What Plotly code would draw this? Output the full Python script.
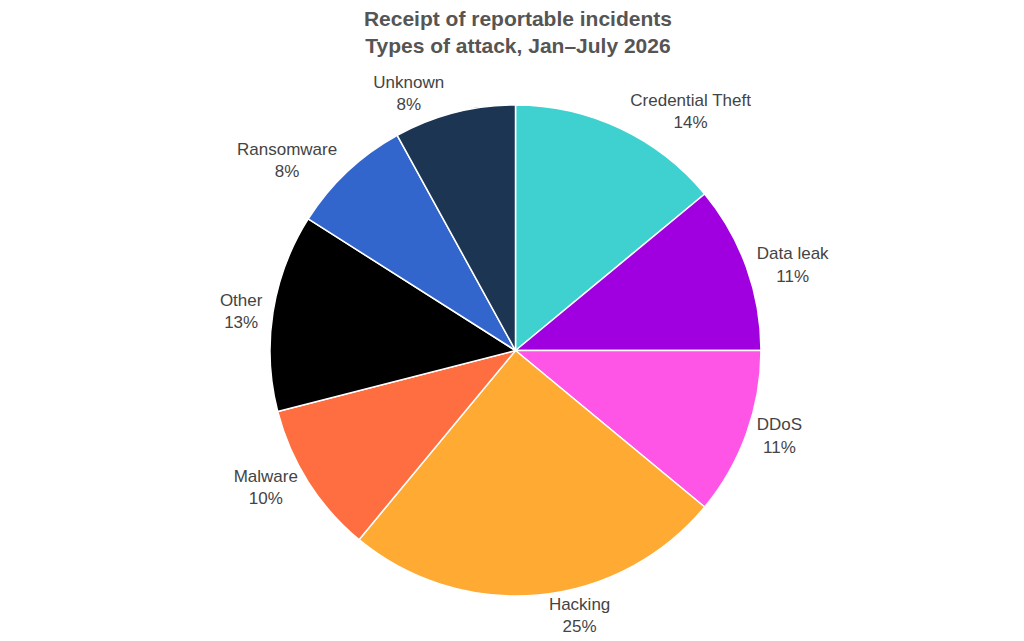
import plotly.graph_objects as go

labels = ["Credential Theft", "Data leak", "DDoS", "Hacking", "Malware", "Other", "Ransomware", "Unknown"]
values = [14, 11, 11, 25, 10, 13, 8, 8]
colors = ["#3ED1D0", "#A000DF", "#FF55E6", "#FFAA33", "#FF6E40", "#000000", "#3366CC", "#1B3553"]

fig = go.Figure(go.Pie(
    labels=labels,
    values=values,
    sort=False,
    direction="clockwise",
    rotation=0,
    marker=dict(colors=colors, line=dict(color="white", width=1.5)),
    textposition="outside",
    texttemplate="%{label}<br>%{percent:.0%}",
    textfont=dict(family="Liberation Sans, Arial", size=17, color="#444444"),
    showlegend=False,
    hoverinfo="label+percent",
))

fig.update_layout(
    width=1024,
    height=641,
    margin=dict(t=97, b=53, l=262, r=271),
    paper_bgcolor="white",
    title=dict(
        text="<b>Receipt of reportable incidents<br>Types of attack, Jan\u2013July 2026</b>",
        x=0.498, xanchor="center",
        y=0.972, yanchor="top", yref="container",
        font=dict(family="Liberation Sans, Arial", size=21, color="#555555"),
    ),
)

fig.write_html("out.html")
